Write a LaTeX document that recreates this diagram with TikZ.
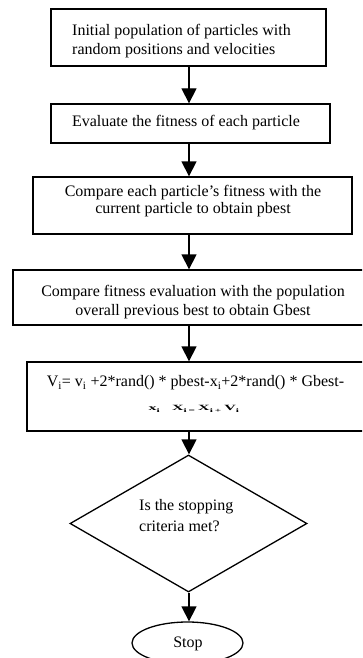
\documentclass[tikz,border=0pt]{standalone}
\usepackage{fontspec}
\setmainfont{Liberation Serif}
\usetikzlibrary{shapes.geometric,arrows.meta}
\begin{document}
\begin{tikzpicture}[x=1pt,y=-1pt,
  box/.style={draw,line width=1.3pt,rectangle,inner sep=0pt},
  txt/.style={inner sep=0pt,font=\fontsize{16}{19}\selectfont,align=center},
  flow/.style={line width=1.3pt,-{Triangle[width=15pt,length=15pt]}}]
\useasboundingbox (0,0) rectangle (362,658);
\clip (0,0) rectangle (362,658);
\coordinate (ax) at (189,0);
% boxes
\node[box,minimum width=275pt,minimum height=57pt] (b1) at (188.5,37.5) {};
\node[box,minimum width=279pt,minimum height=39pt] (b2) at (190.5,123.5) {};
\node[box,minimum width=319pt,minimum height=57pt] (b3) at (192.5,205.5) {};
\node[box,minimum width=370pt,minimum height=55pt] (b4) at (198,297.5) {};
\node[box,minimum width=360pt,minimum height=69pt] (b5) at (207,396.5) {};
\node[draw,line width=1.3pt,diamond,inner sep=0pt,minimum width=237pt,minimum height=137pt] (dia) at (188.5,523.5) {};
\node[draw,line width=1.3pt,ellipse,inner sep=0pt,minimum width=111pt,minimum height=42pt] (stop) at (187.5,643) {};
% texts
\node[txt,align=left,anchor=west] (t1) at (72,41) {Initial population of particles with\\random positions and velocities};
\node[txt] (t2) at (186,123) {Evaluate the fitness of each particle};
\node[txt,font=\fontsize{16}{17}\selectfont] (t3) at (193,201) {Compare each particle’s fitness with the\\current particle to obtain pbest};
\node[txt] (t4) at (193,302) {Compare fitness evaluation with the population\\overall previous best to obtain Gbest};
\node[txt] (t5) at (195.5,383) {V\textsubscript{i}= v\textsubscript{i} +2*rand() * pbest-x\textsubscript{i}+2*rand() * Gbest-};
\node[inner sep=0pt,font=\fontsize{16}{19}\selectfont\bfseries] (t6) at (194,409) {\scalebox{1}[0.5]{x\textsubscript{i}\hspace{12pt}X\textsubscript{i\,=}\,X\textsubscript{i\,+}\,V\textsubscript{i}}};
\node[txt,align=left,anchor=west,font=\fontsize{16}{21}\selectfont] (t7) at (139,516) {Is the stopping\\criteria met?};
\node[txt] (t8) at (188,644) {Stop};
% connectors
\draw[flow] (b1.south -| ax) -- (b2.north -| ax);
\draw[flow] (b2.south -| ax) -- (b3.north -| ax);
\draw[flow] (b3.south -| ax) -- (b4.north -| ax);
\draw[flow] (b4.south -| ax) -- (b5.north -| ax);
\draw[flow] (b5.south -| ax) -- (dia.north -| ax);
\draw[flow] (dia.south -| ax) -- (stop.north -| ax);
\end{tikzpicture}
\end{document}
